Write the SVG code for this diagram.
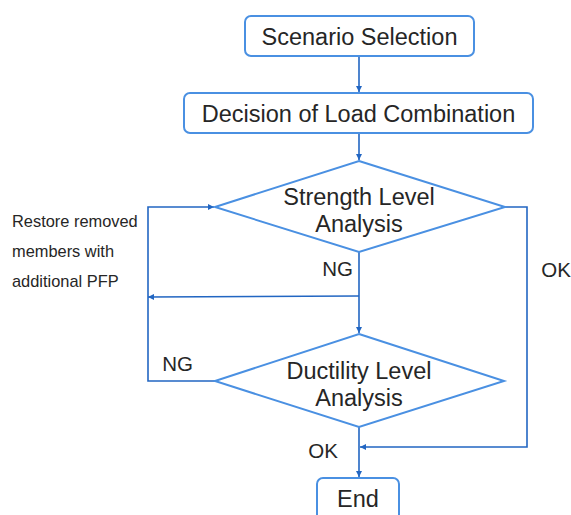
<svg xmlns="http://www.w3.org/2000/svg" width="571" height="515" viewBox="0 0 571 515">
<style>
.shape{fill:#fff;stroke:#4a90e2;stroke-width:2}
.conn{fill:none;stroke:#2266c2;stroke-width:1.6}
.t{font-family:"Liberation Sans",Arial,sans-serif;fill:#262626;text-anchor:middle}
.big{font-size:23.5px}
.lbl{font-size:20.5px}
.note{font-size:16.4px;text-anchor:start}
</style>
<defs>
<marker id="ah" viewBox="0 0 10 10" refX="10" refY="5" markerWidth="6" markerHeight="6" markerUnits="userSpaceOnUse" orient="auto">
<path d="M0,0 L10,5 L0,10 z" fill="#2266c2"/>
</marker>
</defs>
<rect width="571" height="515" fill="#fff"/>
<g id="connectors">
<line class="conn" x1="359" y1="56" x2="359" y2="92" marker-end="url(#ah)"/>
<line class="conn" x1="359" y1="133" x2="359" y2="160" marker-end="url(#ah)"/>
<line class="conn" x1="359" y1="252" x2="359" y2="333" marker-end="url(#ah)"/>
<line class="conn" x1="359" y1="296" x2="148" y2="297" marker-end="url(#ah)"/>
<polyline class="conn" points="215,381 148,381 148,207 214,207" marker-end="url(#ah)"/>
<polyline class="conn" points="505,207 527,207 527,447 360,447" marker-end="url(#ah)"/>
<line class="conn" x1="359" y1="427" x2="359" y2="477" marker-end="url(#ah)"/>
</g>
<g id="scenario">
<rect class="shape" x="245" y="16" width="229" height="40" rx="6"/>
<text class="t big" x="359.5" y="45">Scenario Selection</text>
</g>
<g id="decision">
<rect class="shape" x="184" y="93" width="349" height="40" rx="6"/>
<text class="t big" x="358.5" y="122">Decision of Load Combination</text>
</g>
<g id="strength">
<polygon class="shape" points="359,161 505,207 359,252 215,207"/>
<text class="t big" x="359" y="205">Strength Level</text>
<text class="t big" x="359" y="232">Analysis</text>
</g>
<g id="ductility">
<polygon class="shape" points="359,334 504,381 359,427 215,381"/>
<text class="t big" x="359" y="379">Ductility Level</text>
<text class="t big" x="359" y="406">Analysis</text>
</g>
<g id="end">
<rect class="shape" x="317" y="478" width="82" height="44" rx="6"/>
<text class="t big" x="358" y="507">End</text>
</g>
<g id="labels">
<text class="t lbl" x="337.5" y="276">NG</text>
<text class="t lbl" x="556" y="277">OK</text>
<text class="t lbl" x="177.5" y="371">NG</text>
<text class="t lbl" x="323" y="458">OK</text>
<text class="t note" x="12" y="227">Restore removed</text>
<text class="t note" x="12" y="257">members with</text>
<text class="t note" x="12" y="287">additional PFP</text>
</g>
</svg>
